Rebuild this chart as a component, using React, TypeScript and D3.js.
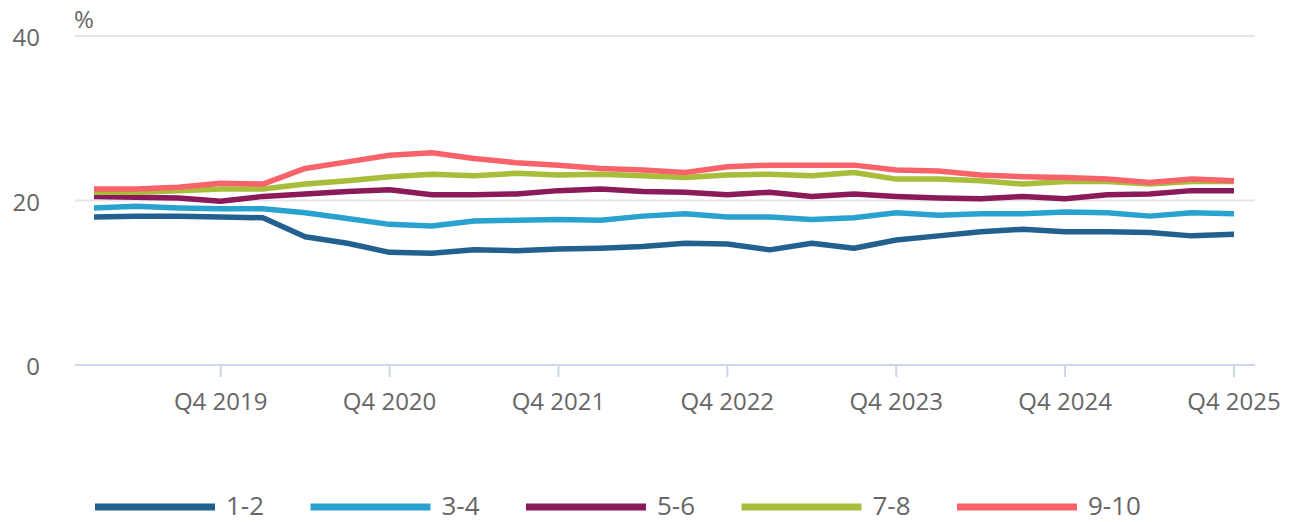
import React from "react";
import * as d3 from "d3";

const quarters: string[] = [
  "Q1 2019","Q2 2019","Q3 2019","Q4 2019",
  "Q1 2020","Q2 2020","Q3 2020","Q4 2020",
  "Q1 2021","Q2 2021","Q3 2021","Q4 2021",
  "Q1 2022","Q2 2022","Q3 2022","Q4 2022",
  "Q1 2023","Q2 2023","Q3 2023","Q4 2023",
  "Q1 2024","Q2 2024","Q3 2024","Q4 2024",
  "Q1 2025","Q2 2025","Q3 2025","Q4 2025",
];

const s12: number[] = [18.0,18.1,18.1,18.0,17.9,15.6,14.8,13.7,13.6,14.0,13.9,14.1,14.2,14.4,14.8,14.7,14.0,14.8,14.2,15.2,15.7,16.2,16.5,16.2,16.2,16.1,15.7,15.9];
const s34: number[] = [19.1,19.3,19.1,19.0,19.0,18.5,17.8,17.1,16.9,17.5,17.6,17.7,17.6,18.1,18.4,18.0,18.0,17.7,17.9,18.5,18.2,18.4,18.4,18.6,18.5,18.1,18.5,18.4];
const s56: number[] = [20.5,20.4,20.3,19.9,20.5,20.8,21.1,21.3,20.7,20.7,20.8,21.2,21.4,21.1,21.0,20.7,21.0,20.5,20.8,20.5,20.3,20.2,20.5,20.2,20.7,20.8,21.2,21.2];
const s78: number[] = [21.0,21.0,21.2,21.4,21.4,22.0,22.4,22.9,23.2,23.0,23.3,23.1,23.2,23.0,22.8,23.1,23.2,23.0,23.4,22.6,22.6,22.4,22.0,22.3,22.3,22.0,22.3,22.3];
const s910: number[] = [21.4,21.4,21.6,22.1,22.0,23.9,24.7,25.5,25.8,25.1,24.6,24.3,23.9,23.7,23.4,24.1,24.3,24.3,24.3,23.7,23.6,23.1,22.9,22.8,22.6,22.2,22.6,22.4];

const seriesNames: string[] = ["1-2", "3-4", "5-6", "7-8", "9-10"];
const seriesData: number[][] = [s12, s34, s56, s78, s910];
const seriesColors: string[] = ["#22618f", "#2aa2cf", "#8a1a59", "#a8bd3a", "#f8636a"];
const yTicks: number[] = [0, 20, 40];
const xTickLabels: string[] = ["Q4 2019","Q4 2020","Q4 2021","Q4 2022","Q4 2023","Q4 2024","Q4 2025"];

const W = 1292;
const H = 522;
const FONT = "'Open Sans', sans-serif";

export default function App() {
  const x = d3.scaleLinear().domain([0, quarters.length - 1]).range([94, 1234]);
  const y = d3.scaleLinear().domain([0, 40]).range([365, 36]);
  const line = d3
    .line<number>()
    .x((_, i) => x(i))
    .y((d) => y(d));

  return (
    <svg
      width={W}
      height={H}
      style={{ position: "absolute", left: 0, top: 0, background: "#fff" }}
    >
      {yTicks.map((t) => (
        <g key={t}>
          <line
            x1={75}
            x2={1255}
            y1={y(t)}
            y2={y(t)}
            stroke={t === 0 ? "#ccd6eb" : "#e6e6e6"}
            strokeWidth={2}
          />
          <text
            x={40}
            y={y(t) + 10}
            textAnchor="end"
            fontFamily={FONT}
            fontSize={24}
            fill="#666"
          >
            {t}
          </text>
        </g>
      ))}
      <text x={74} y={28} fontFamily={FONT} fontSize={24} fill="#666">
        %
      </text>
      {xTickLabels.map((lab) => {
        const i = quarters.indexOf(lab);
        return (
          <g key={lab}>
            <line
              x1={x(i)}
              x2={x(i)}
              y1={365}
              y2={377}
              stroke="#ccd6eb"
              strokeWidth={2}
            />
            <text
              x={x(i)}
              y={410}
              textAnchor="middle"
              fontFamily={FONT}
              fontSize={24}
              fill="#666"
            >
              {lab}
            </text>
          </g>
        );
      })}
      {seriesData.map((d, k) => (
        <path
          key={seriesNames[k]}
          d={line(d) || ""}
          fill="none"
          stroke={seriesColors[k]}
          strokeWidth={5.5}
          strokeLinejoin="round"
        />
      ))}
      {seriesNames.map((name, k) => {
        const lx = 95 + k * 215.5;
        return (
          <g key={name}>
            <line
              x1={lx}
              x2={lx + 120}
              y1={507}
              y2={507}
              stroke={seriesColors[k]}
              strokeWidth={7}
            />
            <text
              x={lx + 131}
              y={515}
              fontFamily={FONT}
              fontSize={26}
              fill="#666"
            >
              {name}
            </text>
          </g>
        );
      })}
    </svg>
  );
}
